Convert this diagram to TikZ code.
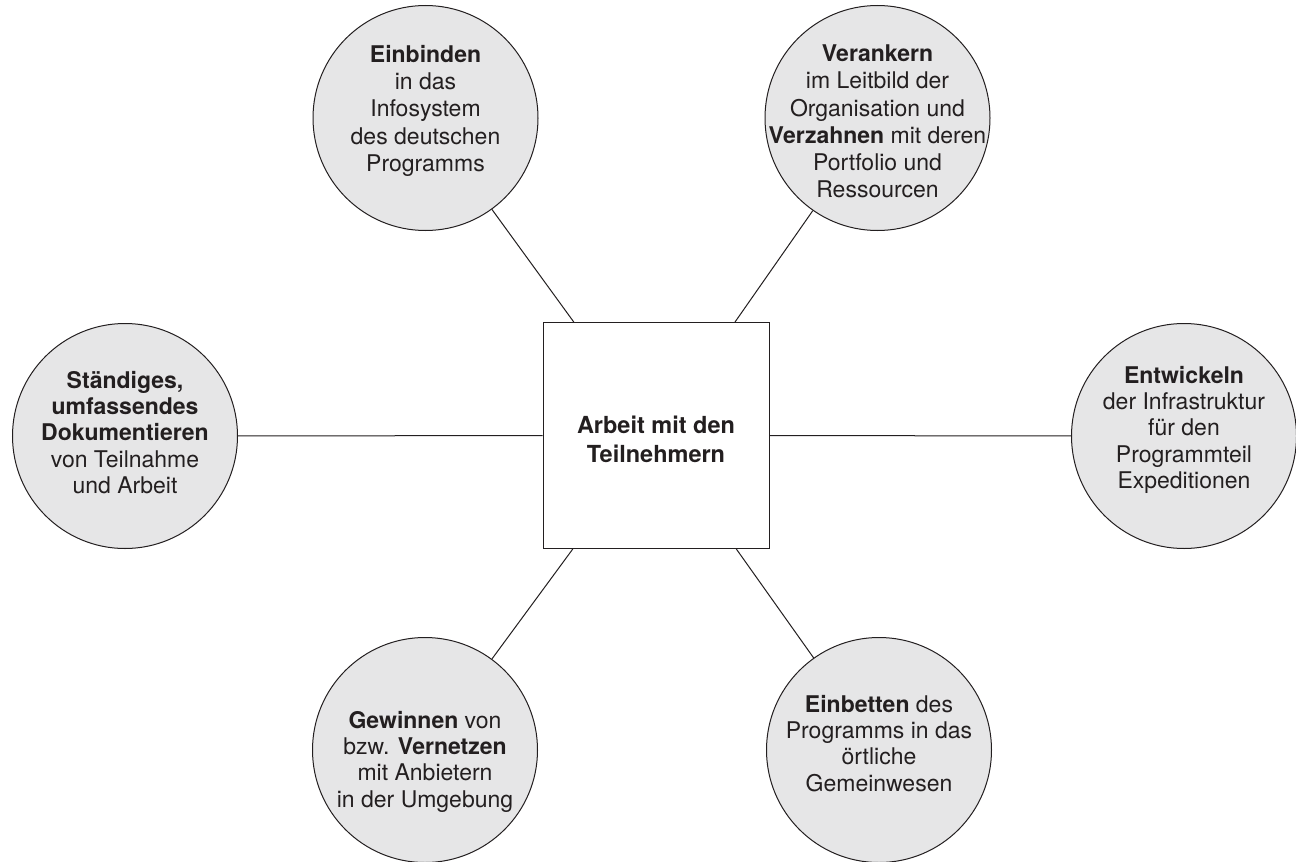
\documentclass[tikz,border=0pt]{standalone}
\usepackage{fontspec}
\setmainfont{TeX Gyre Heros}
\definecolor{circfill}{HTML}{E6E6E7}
\definecolor{ink}{HTML}{231F20}
\begin{document}
\begin{tikzpicture}[x=1pt,y=-1pt,
  bubble/.style={circle, draw=ink, fill=circfill, line width=1pt, minimum size=225pt, inner sep=0pt},
  hub/.style={rectangle, draw=ink, fill=white, line width=1pt, minimum size=226pt, inner sep=0pt},
  txt/.style={anchor=north, align=center, inner sep=0pt, text=ink, font=\fontsize{23}{27.3}\selectfont},
  txtb/.style={txt, font=\fontsize{23}{26.3}\selectfont},
  hubtxt/.style={anchor=north, align=center, inner sep=0pt, text=ink, font=\bfseries\fontsize{23.5}{29}\selectfont},
  link/.style={draw=ink, line width=1pt}]
\useasboundingbox (0,0) rectangle (1296,862);
\fill[white] (0,0) rectangle (1296,862);

\node[hub] (sq) at (656,435.5) {};
\node[bubble] (c1) at (425.5,118) {};
\node[bubble] (c2) at (877.5,118) {};
\node[bubble] (c3) at (125,436) {};
\node[bubble] (c4) at (1184,436) {};
\node[bubble] (c5) at (425,750) {};
\node[bubble] (c6) at (879,750) {};

\draw[link] (c1) -- (sq);
\draw[link] (c2) -- (sq);
\draw[link] (c3) -- (sq);
\draw[link] (c4) -- (sq);
\draw[link] (c5) -- (sq);
\draw[link] (c6) -- (sq);

\node[hubtxt] (tc) at (656,416) {Arbeit mit den\\Teilnehmern};

\node[txt] (t1) at (425.5,45) {\textbf{Einbinden}\\in das\\Infosystem\\des deutschen\\Programms};
\node[txt] (t2) at (877.5,44.5) {\textbf{Verankern}\\im Leitbild der\\Organisation und\\\textbf{Verzahnen} mit deren\\Portfolio und\\Ressourcen};
\node[txtb] (t3) at (125,371) {\textbf{Ständiges,}\\\textbf{umfassendes}\\\textbf{Dokumentieren}\\von Teilnahme\\und Arbeit};
\node[txtb] (t4) at (1184,366) {\textbf{Entwickeln}\\der Infrastruktur\\für den\\Programmteil\\Expeditionen};
\node[txtb] (t5) at (425,711) {\textbf{Gewinnen} von\\bzw. \textbf{Vernetzen}\\mit Anbietern\\in der Umgebung};
\node[txtb] (t6) at (879,695) {\textbf{Einbetten} des\\Programms in das\\örtliche\\Gemeinwesen};
\end{tikzpicture}
\end{document}
